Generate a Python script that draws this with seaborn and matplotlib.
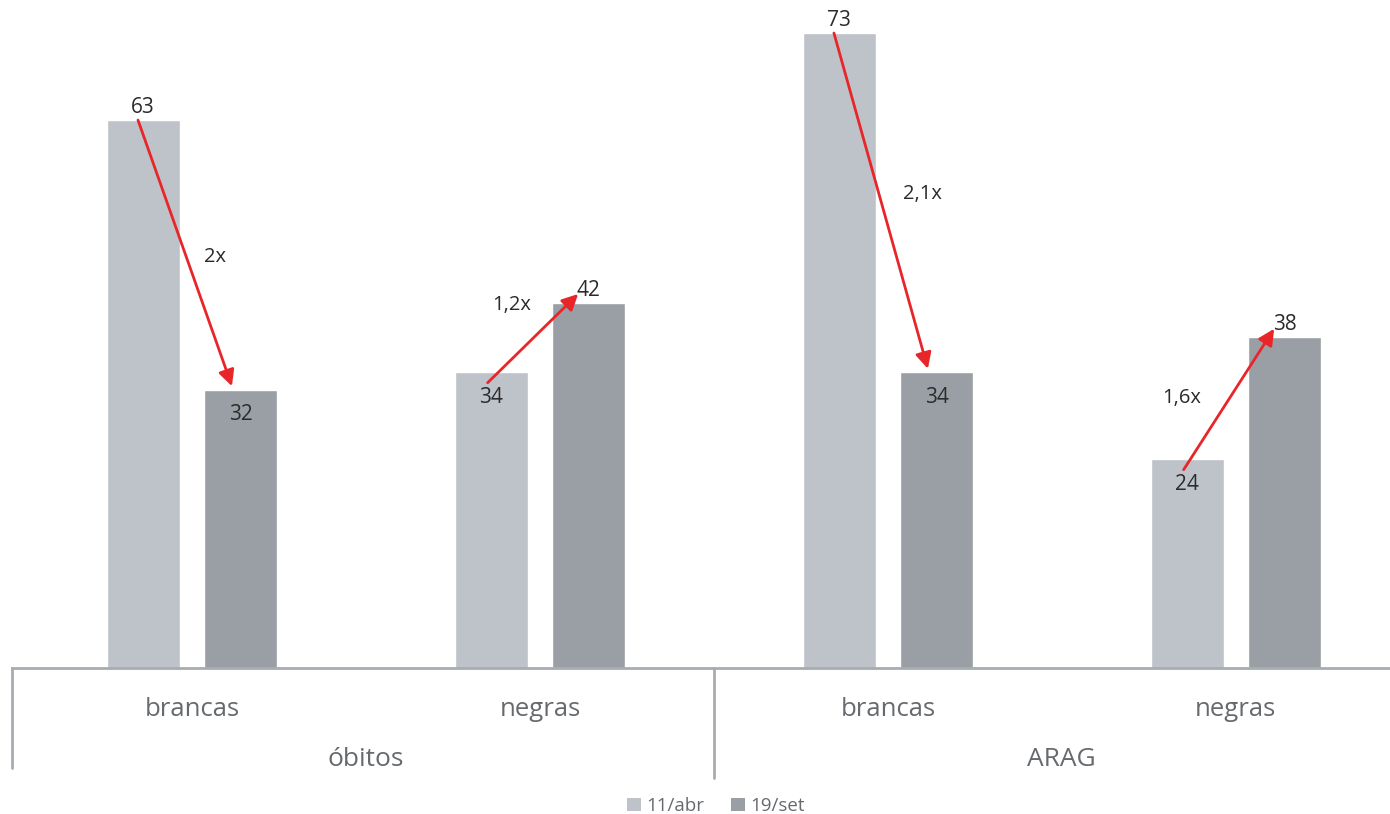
import matplotlib
matplotlib.use("Agg")
import matplotlib.pyplot as plt
import seaborn as sns
import pandas as pd
from matplotlib.patches import Patch

# ---- data ----
groups = ["óbitos", "óbitos", "ARAG", "ARAG"]
categories = ["brancas", "negras", "brancas", "negras"]
series_names = ["11/abr", "19/set"]
values_abr = [63, 34, 73, 24]
values_set = [32, 42, 34, 38]
ratio_labels = ["2x", "1,2x", "2,1x", "1,6x"]

# ---- layout (label offsets in points, not data) ----
ratio_offsets = [(14, -3), (-1, 24), (16, 5), (-20, 1)]

# ---- style ----
light = "#BEC3C9"
dark = "#999FA5"
red = "#E8262A"
axis_col = "#A7ACB1"
txt_dark = "#2B2B2B"
txt_gray = "#666A6E"

sns.set_theme(style="white")
plt.rcParams["font.family"] = ["Open Sans", "DejaVu Sans"]

keys = [f"{g}|{c}" for g, c in zip(groups, categories)]
df = pd.DataFrame({
    "key": keys * 2,
    "value": values_abr + values_set,
    "serie": [series_names[0]] * 4 + [series_names[1]] * 4,
})

fig = plt.figure(figsize=(13.9, 8.14), dpi=100)
ax = fig.add_axes([12 / 1390, (814 - 668) / 814, 1 - 12 / 1390, 668 / 814])

sns.barplot(data=df, x="key", y="value", hue="serie", order=keys,
            hue_order=series_names, palette=[light, dark], width=0.56,
            gap=0.25, saturation=1, ax=ax, legend=False)

ax.set_xlim(-0.517, 3.443)
ax.set_ylim(0, 76.8)
ax.set_xlabel("")
ax.set_ylabel("")
ax.set_yticks([])
ax.set_xticks(range(len(keys)))
ax.set_xticklabels(categories, fontsize=18.5, color=txt_gray)
ax.tick_params(axis="x", length=0, pad=21)
for s in ["top", "right", "left"]:
    ax.spines[s].set_visible(False)
ax.spines["bottom"].set_color(axis_col)
ax.spines["bottom"].set_linewidth(2)

off = 0.14
for i in range(len(keys)):
    a, b = values_abr[i], values_set[i]
    xa, xb = i - off, i + off
    # value labels: larger above, smaller inside
    for x, v, other in [(xa, a, b), (xb, b, a)]:
        dy = 9 if v > other else -18
        ax.annotate(str(v), (x, v), xytext=(0, dy), textcoords="offset points",
                    ha="center", va="center", fontsize=15, color=txt_dark)
    # arrows
    if a > b:
        start = (i - 0.155, a)
        end = (i + 0.115, b + 0.4)
    else:
        start = (i - 0.15, a - 1.2)
        end = (i + 0.11, b + 1.0)
    ax.annotate("", xy=end, xytext=start,
                arrowprops=dict(arrowstyle="-|>", color=red, lw=2,
                                mutation_scale=24, shrinkA=0, shrinkB=0))
    mx, my = (start[0] + end[0]) / 2, (start[1] + end[1]) / 2
    ax.annotate(ratio_labels[i], (mx, my), xytext=ratio_offsets[i],
                textcoords="offset points", ha="left" if a > b else "right",
                va="center", fontsize=14.5, color=txt_dark)

# group separators and labels
trans = ax.get_xaxis_transform()
ax.plot([-0.517, -0.517], [0, -100 / 668], transform=trans, color=axis_col,
        lw=2, clip_on=False)
ax.plot([1.5, 1.5], [0, -110 / 668], transform=trans, color=axis_col,
        lw=2, clip_on=False)
group_names = list(dict.fromkeys(groups))
for g in group_names:
    idx = [k for k, gg in enumerate(groups) if gg == g]
    xc = sum(idx) / len(idx)
    ax.text(xc, -91 / 668, g, transform=trans, ha="center", va="center",
            fontsize=19, color=txt_gray)

# legend
handles = [Patch(facecolor=light, edgecolor="none"), Patch(facecolor=dark, edgecolor="none")]
leg = fig.legend(handles, series_names, loc="center", bbox_to_anchor=(0.515, 8 / 814),
                 ncol=2, frameon=False, handlelength=0.75, handleheight=0.75,
                 handletextpad=0.3, columnspacing=1.4, fontsize=13.5)
for t in leg.get_texts():
    t.set_color(txt_gray)

fig.savefig("out.png", dpi=100)
